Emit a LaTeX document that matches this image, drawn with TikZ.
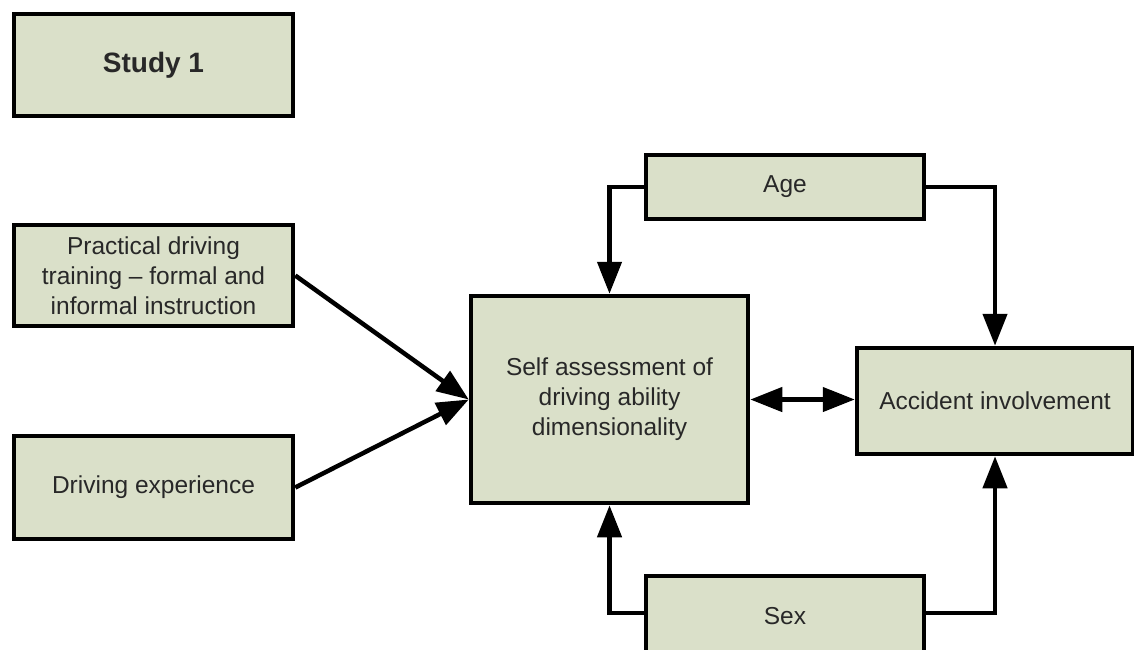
\documentclass[tikz,border=0pt]{standalone}
\usepackage{fontspec}
\setmainfont{Liberation Sans}
\usetikzlibrary{arrows.meta}
\definecolor{boxfill}{RGB}{218,224,201}
\definecolor{txt}{RGB}{40,40,40}
\begin{document}
\begin{tikzpicture}[x=1pt,y=-1pt,
  box/.style={draw=black, fill=boxfill, line width=4.5pt, rectangle, inner sep=0pt,
    text=txt, align=center, font=\fontsize{24.5}{30}\selectfont},
  conn/.style={line width=4.5pt, -{Triangle[length=32pt,width=24pt]}},
  dconn/.style={line width=4.5pt, {Triangle[length=32pt,width=24pt]}-{Triangle[length=32pt,width=24pt]}}
]
\useasboundingbox (0,0) rectangle (1134,649);
\clip (0,0) rectangle (1134,649);
\node[box, minimum width=279pt, minimum height=102pt, font=\bfseries\fontsize{28}{32}\selectfont] (study) at (153.5,65) {Study 1};
\node[box, minimum width=279pt, minimum height=101pt] (prac) at (153.5,275.5) {Practical driving\\training – formal and\\informal instruction};
\node[box, minimum width=279pt, minimum height=103pt] (exp) at (153.5,487.5) {Driving experience};
\node[box, minimum width=277pt, minimum height=207pt] (self) at (609.5,399.5) {Self assessment of\\driving ability\\dimensionality};
\node[box, minimum width=278pt, minimum height=64pt] (age) at (785,187) {Age};
\node[box, minimum width=276pt, minimum height=106pt] (acc) at (995,401) {Accident involvement};
\node[box, minimum width=278pt, minimum height=80pt] (sex) at (785,616) {Sex};
\draw[conn] (prac.east) -- (self.west);
\draw[conn] (exp.east) -- (self.west);
\draw[conn] (age.west) -| (self.north);
\draw[conn] (age.east) -| (acc.north);
\draw[conn] ([yshift=3pt]sex.west) -| (self.south);
\draw[conn] ([yshift=3pt]sex.east) -| (acc.south);
\draw[dconn] (self.east) -- (self.east -| acc.west);
\end{tikzpicture}
\end{document}
